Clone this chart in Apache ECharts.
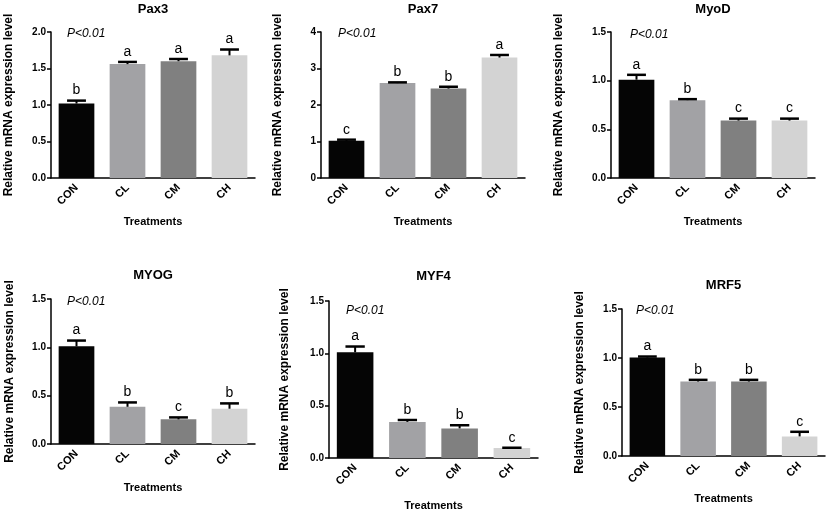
<!DOCTYPE html>
<html>
<head>
<meta charset="utf-8">
<script src="https://cdn.jsdelivr.net/npm/echarts@6/dist/echarts.min.js"></script>
<style>html,body{margin:0;padding:0;background:#fff}#c{width:827px;height:513px}</style>
</head>
<body>
<div id="c"></div>
<script>
// ---- data ----
const categories = ['CON', 'CL', 'CM', 'CH'];
const pax3Mean = [1.02, 1.56, 1.60, 1.68];
const pax3Sem = [0.04, 0.03, 0.03, 0.08];
const pax3Letters = ['b', 'a', 'a', 'a'];
const pax7Mean = [1.02, 2.60, 2.45, 3.30];
const pax7Sem = [0.03, 0.02, 0.05, 0.07];
const pax7Letters = ['c', 'b', 'b', 'a'];
const myodMean = [1.01, 0.80, 0.59, 0.59];
const myodSem = [0.05, 0.01, 0.02, 0.02];
const myodLetters = ['a', 'b', 'c', 'c'];
const myogMean = [1.01, 0.385, 0.255, 0.365];
const myogSem = [0.06, 0.045, 0.02, 0.055];
const myogLetters = ['a', 'b', 'c', 'b'];
const myf4Mean = [1.01, 0.345, 0.283, 0.095];
const myf4Sem = [0.055, 0.018, 0.03, 0.003];
const myf4Letters = ['a', 'b', 'b', 'c'];
const mrf5Mean = [1.005, 0.76, 0.76, 0.20];
const mrf5Sem = [0.01, 0.017, 0.017, 0.047];
const mrf5Letters = ['a', 'b', 'b', 'c'];
const titles = ['Pax3', 'Pax7', 'MyoD', 'MYOG', 'MYF4', 'MRF5'];
const yMax = [2, 4, 1.5, 1.5, 1.5, 1.5];
const yInterval = [0.5, 1, 0.5, 0.5, 0.5, 0.5];
const yDecimals = [1, 0, 1, 1, 1, 1];
const pText = 'P<0.01';
const yName = 'Relative mRNA expression level';
const xName = 'Treatments';

// ---- layout / style ----
const FONT = '"Liberation Sans", Arial, sans-serif';
const barColors = ['#050505', '#a2a2a5', '#808080', '#d3d3d3'];
const grids = [
  {left: 51, top: 32, width: 204, height: 146},
  {left: 321, top: 32, width: 204, height: 146},
  {left: 611, top: 32, width: 204, height: 146},
  {left: 51, top: 299, width: 204, height: 145},
  {left: 329, top: 301, width: 209, height: 157},
  {left: 622, top: 309, width: 203, height: 147}
];
const titleTops = [3, 3, 3, 269, 270, 279];
const pPos = [[67, 28], [338, 28], [630, 29], [67, 296], [346, 305], [636, 305]];
const yNameGap = [36, 37, 46, 35, 38, 36];
const xNameGap = [38, 38, 38, 38, 42, 37];

const means = [pax3Mean, pax7Mean, myodMean, myogMean, myf4Mean, mrf5Mean];
const sems = [pax3Sem, pax7Sem, myodSem, myogSem, myf4Sem, mrf5Sem];
const letters = [pax3Letters, pax7Letters, myodLetters, myogLetters, myf4Letters, mrf5Letters];

const option = {
  animation: false,
  backgroundColor: '#fff',
  textStyle: {fontFamily: FONT},
  title: [],
  grid: [],
  xAxis: [],
  yAxis: [],
  series: []
};

for (let p = 0; p < 6; p++) {
  const g = grids[p];
  option.grid.push({left: g.left, top: g.top, width: g.width, height: g.height, containLabel: false});
  option.title.push({
    text: titles[p], left: g.left + g.width / 2, top: titleTops[p], textAlign: 'center',
    textStyle: {fontFamily: FONT, fontSize: 13, fontWeight: 'bold', color: '#000'}, padding: 0
  });
  option.title.push({
    text: pText, left: pPos[p][0], top: pPos[p][1], padding: 0,
    textStyle: {fontFamily: FONT, fontSize: 12, fontStyle: 'italic', fontWeight: 'normal', color: '#000'}
  });
  option.xAxis.push({
    type: 'category', gridIndex: p, data: categories,
    axisLine: {show: true, lineStyle: {color: '#000', width: 1.5}},
    axisTick: {show: false},
    axisLabel: {rotate: 45, margin: 8, fontFamily: FONT, fontSize: 11, fontWeight: 'bold', color: '#000', interval: 0},
    name: xName, nameLocation: 'middle', nameGap: xNameGap[p],
    nameTextStyle: {fontFamily: FONT, fontSize: 11, fontWeight: 'bold', color: '#000'}
  });
  const dec = yDecimals[p];
  option.yAxis.push({
    type: 'value', gridIndex: p, min: 0, max: yMax[p], interval: yInterval[p],
    axisLine: {show: true, lineStyle: {color: '#000', width: 1.5}},
    axisTick: {show: true, length: 4, lineStyle: {color: '#000', width: 1.5}},
    splitLine: {show: false},
    axisLabel: {margin: 5, fontFamily: FONT, fontSize: 10, fontWeight: 'bold', color: '#000',
      formatter: v => v.toFixed(dec)},
    name: yName, nameLocation: 'middle', nameGap: yNameGap[p],
    nameTextStyle: {fontFamily: FONT, fontSize: 12, fontWeight: 'bold', color: '#000'}
  });
  option.series.push({
    type: 'bar', xAxisIndex: p, yAxisIndex: p,
    data: means[p].map((v, i) => ({value: v, itemStyle: {color: barColors[i]}})),
    barCategoryGap: '30%'
  });
  const lt = letters[p];
  option.series.push({
    type: 'custom', xAxisIndex: p, yAxisIndex: p, z: 5,
    data: means[p].map((v, i) => [i, v, v + sems[p][i]]),
    encode: {x: 0, y: [1, 2]},
    renderItem: function (params, api) {
      const i = api.value(0);
      const base = api.coord([i, api.value(1)]);
      const top = api.coord([i, api.value(2)]);
      const band = api.size([1, 0])[0];
      const half = band * 0.185;
      return {
        type: 'group',
        children: [
          {type: 'line', shape: {x1: base[0], y1: base[1], x2: top[0], y2: top[1]},
            style: {stroke: '#000', lineWidth: 2}},
          {type: 'line', shape: {x1: top[0] - half, y1: top[1], x2: top[0] + half, y2: top[1]},
            style: {stroke: '#000', lineWidth: 2.5}},
          {type: 'text', x: top[0], y: top[1] - 3,
            style: {text: lt[params.dataIndex], fontFamily: FONT, fontSize: 14, fill: '#000',
              align: 'center', verticalAlign: 'bottom'}}
        ]
      };
    }
  });
}

const chart = echarts.init(document.getElementById('c'), null, {renderer: 'canvas'});
chart.setOption(option);
</script>
</body>
</html>
